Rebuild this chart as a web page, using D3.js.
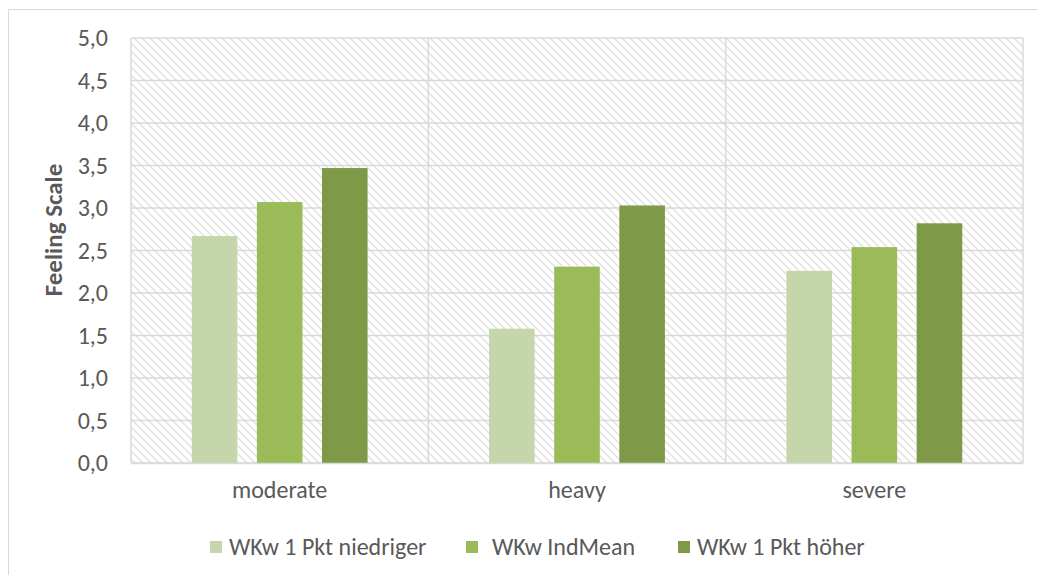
<!DOCTYPE html>
<html>
<head>
<meta charset="utf-8">
<script src="https://cdn.jsdelivr.net/npm/d3@7"></script>
<style>
  html, body { margin: 0; padding: 0; background: #ffffff; }
  svg { display: block; }
  text { font-family: Carlito, Lato, "Open Sans", sans-serif; fill: #595959; }
</style>
</head>
<body>
<svg id="chart" width="1037" height="575"></svg>
<script>
// Categories, series and tick values
const categories = ["moderate", "heavy", "severe"];
const seriesNames = ["WKw 1 Pkt niedriger", "WKw IndMean", "WKw 1 Pkt höher"];
const niedriger = [2.67, 1.58, 2.26];
const indMean = [3.07, 2.31, 2.54];
const hoeher = [3.47, 3.03, 2.82];
const yTicks = [0, 0.5, 1, 1.5, 2, 2.5, 3, 3.5, 4, 4.5, 5];
const seriesColors = ["#c5d6ab", "#9bbb59", "#7e9a48"];
const yTitle = "Feeling Scale";

const series = [niedriger, indMean, hoeher];
const FONT = "Carlito, Lato, 'Open Sans', sans-serif";
const FS = 24;

const svg = d3.select("#chart");
const plot = { left: 131, right: 1023, top: 38, bottom: 463 };

// Outer chart frame
svg.append("rect")
  .attr("x", 8.5).attr("y", 9.5)
  .attr("width", 1040).attr("height", 600)
  .attr("fill", "none").attr("stroke", "#d9d9d9").attr("stroke-width", 1);

// Diagonal hatch fill for the plot area
const defs = svg.append("defs");
const pat = defs.append("pattern")
  .attr("id", "hatch")
  .attr("patternUnits", "userSpaceOnUse")
  .attr("width", 8).attr("height", 8);
pat.append("rect").attr("width", 8).attr("height", 8).attr("fill", "#ffffff");
pat.append("path")
  .attr("d", "M-2,-2 L10,10 M-2,6 L2,10 M6,-2 L10,2")
  .attr("stroke", "#e2e2e2").attr("stroke-width", 1.5);

const x = d3.scaleBand()
  .domain(categories)
  .range([plot.left, plot.right])
  .paddingInner(0).paddingOuter(0);

const xInner = d3.scaleBand()
  .domain(seriesNames)
  .range([0, x.bandwidth()])
  .paddingInner(0.3).paddingOuter(0.933);

const y = d3.scaleLinear().domain([0, 5]).range([plot.bottom, plot.top]);

svg.append("rect")
  .attr("x", plot.left).attr("y", plot.top)
  .attr("width", plot.right - plot.left).attr("height", plot.bottom - plot.top)
  .attr("fill", "url(#hatch)");

// Horizontal gridlines
svg.append("g")
  .selectAll("line")
  .data(yTicks)
  .join("line")
  .attr("x1", plot.left).attr("x2", plot.right)
  .attr("y1", d => y(d)).attr("y2", d => y(d))
  .attr("stroke", "#d9d9d9").attr("stroke-width", 1.5);

// Vertical gridlines at category boundaries
const bounds = categories.map(c => x(c)).concat([x(categories[2]) + x.bandwidth()]);
svg.append("g")
  .selectAll("line")
  .data(bounds)
  .join("line")
  .attr("x1", d => d).attr("x2", d => d)
  .attr("y1", plot.top).attr("y2", plot.bottom)
  .attr("stroke", "#d9d9d9").attr("stroke-width", 1.5);

// Bars
series.forEach((vals, si) => {
  svg.append("g")
    .selectAll("rect")
    .data(vals)
    .join("rect")
    .attr("x", (d, i) => x(categories[i]) + xInner(seriesNames[si]))
    .attr("width", xInner.bandwidth())
    .attr("y", d => y(d))
    .attr("height", d => y(0) - y(d))
    .attr("fill", seriesColors[si]);
});

// Y axis labels
const fmt = d => d3.format(".1f")(d).replace(".", ",");
const yAxis = d3.axisLeft(y).tickValues(yTicks).tickFormat(fmt).tickSize(0).tickPadding(23);
const yg = svg.append("g").attr("transform", `translate(${plot.left},0)`).call(yAxis);
yg.select(".domain").remove();
yg.selectAll("text").attr("font-size", FS).attr("fill", "#595959")
  .style("font-family", FONT);

// X axis labels
const xAxis = d3.axisBottom(x).tickSize(0).tickPadding(18);
const xg = svg.append("g").attr("transform", `translate(0,${plot.bottom})`).call(xAxis);
xg.select(".domain").attr("stroke", "#d9d9d9").attr("stroke-width", 1.5);
xg.selectAll("text").attr("font-size", FS).attr("fill", "#595959")
  .style("font-family", FONT);

// Y axis title
svg.append("text")
  .attr("transform", `translate(62,230) rotate(-90)`)
  .attr("text-anchor", "middle")
  .attr("font-size", 25)
  .attr("font-weight", "bold")
  .text(yTitle);

// Legend
const legendX = [210, 466, 678];
const legendGap = [19, 26, 19];
const lg = svg.append("g");
seriesNames.forEach((name, i) => {
  lg.append("rect")
    .attr("x", legendX[i]).attr("y", 541)
    .attr("width", 12).attr("height", 12)
    .attr("fill", seriesColors[i]);
  lg.append("text")
    .attr("x", legendX[i] + legendGap[i]).attr("y", 547)
    .attr("dy", "0.35em")
    .attr("font-size", FS)
    .text(name);
});
</script>
</body>
</html>
